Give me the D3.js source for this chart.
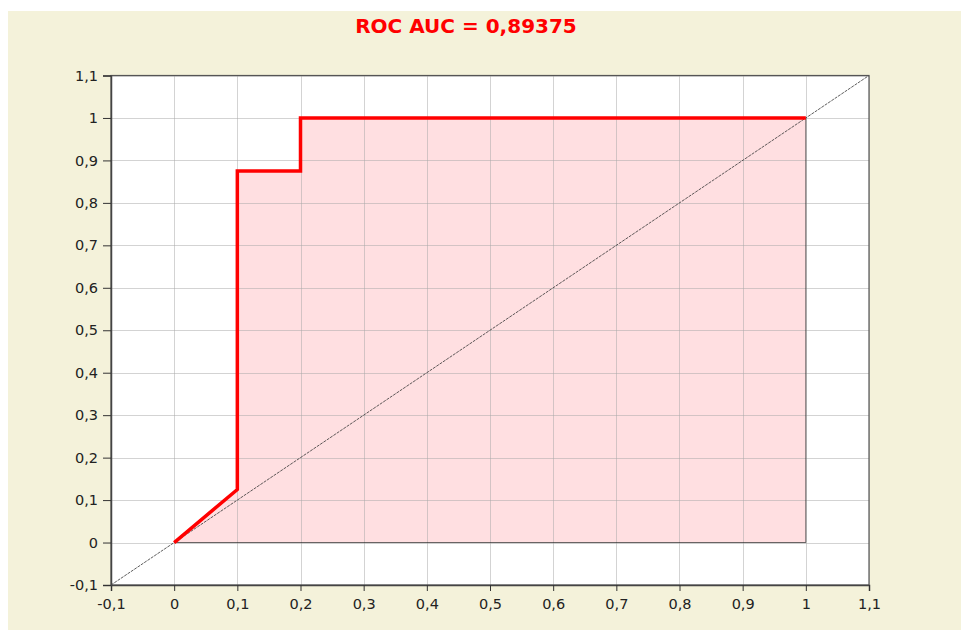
<!DOCTYPE html>
<html><head><meta charset="utf-8">
<script src="https://cdn.jsdelivr.net/npm/d3@7"></script>
<style>
html,body{margin:0;padding:0;background:#fff;}
svg{display:block;}
</style></head>
<body>
<script>
const rocFPR = [0, 0.1, 0.1, 0.2, 0.2, 1];
const rocTPR = [0, 0.125, 0.875, 0.875, 1, 1];
const tickValues = [-0.1, 0, 0.1, 0.2, 0.3, 0.4, 0.5, 0.6, 0.7, 0.8, 0.9, 1, 1.1];
const tickLabels = ["-0,1", "0", "0,1", "0,2", "0,3", "0,4", "0,5", "0,6", "0,7", "0,8", "0,9", "1", "1,1"];
const diagonal = [-0.1, 1.1];
const titleText = "ROC AUC = 0,89375";

const W = 961, H = 630;
const svg = d3.select("body").append("svg").attr("width", W).attr("height", H);
svg.append("rect").attr("x", 8).attr("y", 11).attr("width", W - 8).attr("height", H - 11).attr("fill", "#f4f2da");

const L = 111, R = 869, T = 75.5, B = 585;
const x = d3.scaleLinear().domain([-0.1, 1.1]).range([L, R]);
const y = d3.scaleLinear().domain([-0.1, 1.1]).range([B, T]);

svg.append("rect").attr("x", L).attr("y", T).attr("width", R - L).attr("height", B - T).attr("fill", "#fff");

const pts = rocFPR.map((v, i) => [v, rocTPR[i]]);
const areaPts = pts.concat([[1, 0]]);
const line = d3.line().x(d => x(d[0])).y(d => y(d[1]));

// fill
svg.append("path").attr("d", line(areaPts) + "Z").attr("fill", "#ffdfe1").attr("stroke", "none");

// grid
const g = svg.append("g");
g.selectAll(".vg").data(tickValues).join("line")
  .attr("x1", d => Math.round(x(d)) + 0.5).attr("x2", d => Math.round(x(d)) + 0.5)
  .attr("y1", T).attr("y2", B).attr("stroke", "#a8a8a8").attr("stroke-opacity", 0.5).attr("stroke-width", 1);
g.selectAll(".hg").data(tickValues).join("line")
  .attr("y1", d => Math.round(y(d)) + 0.5).attr("y2", d => Math.round(y(d)) + 0.5)
  .attr("x1", L).attr("x2", R).attr("stroke", "#a8a8a8").attr("stroke-opacity", 0.5).attr("stroke-width", 1);

// outline of area (bottom and right edges)
svg.append("path").attr("d", line([[0, 0], [1, 0], [1, 1]])).attr("fill", "none")
  .attr("stroke", "#222").attr("stroke-width", 1).attr("stroke-opacity", 0.7);

// diagonal
svg.append("line").attr("x1", x(diagonal[0])).attr("y1", y(diagonal[0]))
  .attr("x2", x(diagonal[1])).attr("y2", y(diagonal[1]))
  .attr("stroke", "#333").attr("stroke-width", 0.8).attr("stroke-dasharray", "3,1");

// roc line
svg.append("path").attr("d", line(pts)).attr("fill", "none").attr("stroke", "#ff0000")
  .attr("stroke-width", 3.5).attr("stroke-linejoin", "miter");

// border
svg.append("rect").attr("x", L).attr("y", T).attr("width", R - L).attr("height", B - T)
  .attr("fill", "none").attr("stroke", "#555").attr("stroke-width", 1.2);

const fmt = d => tickLabels[tickValues.indexOf(d)];
const xAxis = svg.append("g").attr("transform", `translate(0,${B})`)
  .call(d3.axisBottom(x).tickValues(tickValues).tickFormat(fmt).tickSize(6).tickPadding(8));
const yAxis = svg.append("g").attr("transform", `translate(${L},0)`)
  .call(d3.axisLeft(y).tickValues(tickValues).tickFormat(fmt).tickSize(8).tickPadding(5));
[xAxis, yAxis].forEach(a => {
  a.select(".domain").attr("stroke", "#444").attr("stroke-width", 1.5);
  a.selectAll(".tick line").attr("stroke", "#333");
  a.selectAll("text").attr("font-family", "DejaVu Sans, Verdana, sans-serif").attr("font-size", 14.5).attr("fill", "#222");
});

svg.append("text").attr("x", 466).attr("y", 33).attr("text-anchor", "middle")
  .attr("font-family", "DejaVu Sans, Verdana, sans-serif").attr("font-weight", "bold").attr("font-size", 20)
  .attr("fill", "#ff0000").text(titleText);
</script>
</body></html>
